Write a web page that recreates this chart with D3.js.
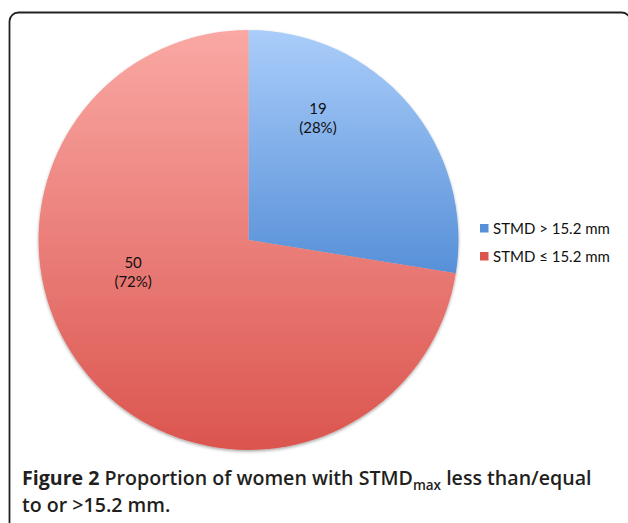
<!DOCTYPE html>
<meta charset="utf-8">
<script src="https://cdn.jsdelivr.net/npm/d3@7"></script>
<style>
  body { margin: 0; background: #fff; }
  svg { display: block; }
</style>
<div id="chart"></div>
<script>
  // data
  const categories = ["STMD > 15.2 mm", "STMD \u2264 15.2 mm"];
  const counts = [19, 50];
  const percents = ["28%", "72%"];
  const gradTop = ["#aacdfa", "#faa8a4"];
  const gradBottom = ["#5790d8", "#db554f"];

  const width = 628, height = 523;
  const cx = 248.5, cy = 240, radius = 210;
  // Excel puts the labels a bit off the centroid
  const labelShift = [-20, 25];
  const labelDist = [0.67, 0.57];

  const svg = d3.select("#chart").append("svg")
    .attr("width", width)
    .attr("height", height);

  const defs = svg.append("defs");
  categories.forEach((c, i) => {
    const g = defs.append("linearGradient")
      .attr("id", "grad" + i)
      .attr("x1", 0).attr("y1", 0).attr("x2", 0).attr("y2", 1);
    g.append("stop").attr("offset", "0%").attr("stop-color", gradTop[i]);
    g.append("stop").attr("offset", "100%").attr("stop-color", gradBottom[i]);
  });
  const shadow = defs.append("filter").attr("id", "shadow")
    .attr("x", "-10%").attr("y", "-10%").attr("width", "120%").attr("height", "120%");
  shadow.append("feDropShadow")
    .attr("dx", 0).attr("dy", 1.5).attr("stdDeviation", 1.5)
    .attr("flood-color", "#000").attr("flood-opacity", 0.35);

  // frame
  svg.append("rect")
    .attr("x", 9.5).attr("y", 12.5)
    .attr("width", 621).attr("height", 540)
    .attr("rx", 9)
    .attr("fill", "none")
    .attr("stroke", "#222")
    .attr("stroke-width", 1.8);

  const pie = d3.pie().sort(null).value(d => d)(counts);
  const arc = d3.arc().innerRadius(0).outerRadius(radius);

  const g = svg.append("g").attr("transform", `translate(${cx},${cy})`);
  g.append("g").attr("filter", "url(#shadow)")
    .selectAll("path")
    .data(pie)
    .join("path")
    .attr("d", arc)
    .attr("fill", (d, i) => `url(#grad${i})`);

  const labels = g.selectAll("text.lbl")
    .data(pie)
    .join("text")
    .attr("class", "lbl")
    .attr("text-anchor", "middle")
    .attr("font-family", "Lato, 'Open Sans', sans-serif")
    .attr("font-size", 15)
    .attr("fill", "#111")
    .attr("transform", (d, i) => {
      const a = (d.startAngle + d.endAngle) / 2 + labelShift[i] * Math.PI / 180;
      const r = radius * labelDist[i];
      return `translate(${r * Math.sin(a)},${-r * Math.cos(a)})`;
    });
  labels.append("tspan").attr("x", 0).attr("y", -4).text(d => d.data);
  labels.append("tspan").attr("x", 0).attr("y", 15).text((d, i) => `(${percents[i]})`);

  // legend
  const legend = svg.append("g").attr("transform", "translate(480,224)");
  const item = legend.selectAll("g")
    .data(categories)
    .join("g")
    .attr("transform", (d, i) => `translate(0,${i * 28})`);
  item.append("rect")
    .attr("width", 8.5).attr("height", 8.5)
    .attr("fill", (d, i) => gradBottom[i]);
  item.append("text")
    .attr("x", 13).attr("y", 9.5)
    .attr("font-family", "Lato, 'Open Sans', sans-serif")
    .attr("font-size", 15)
    .attr("fill", "#111")
    .text(d => d);

  // caption
  const cap = svg.append("g")
    .attr("font-family", "'Open Sans', 'Noto Sans', sans-serif")
    .attr("font-size", 19.6)
    .attr("font-weight", 600)
    .attr("fill", "#231f20");
  const line1 = cap.append("text").attr("x", 22).attr("y", 485);
  line1.append("tspan").attr("font-weight", "bold").text("Figure 2");
  line1.append("tspan").text(" Proportion of women with STMD");
  line1.append("tspan").attr("font-size", 13.5).attr("dy", 5).text("max");
  line1.append("tspan").attr("dy", -5).text(" less than/equal");
  cap.append("text").attr("x", 22).attr("y", 512).text("to or >15.2 mm.");
</script>
